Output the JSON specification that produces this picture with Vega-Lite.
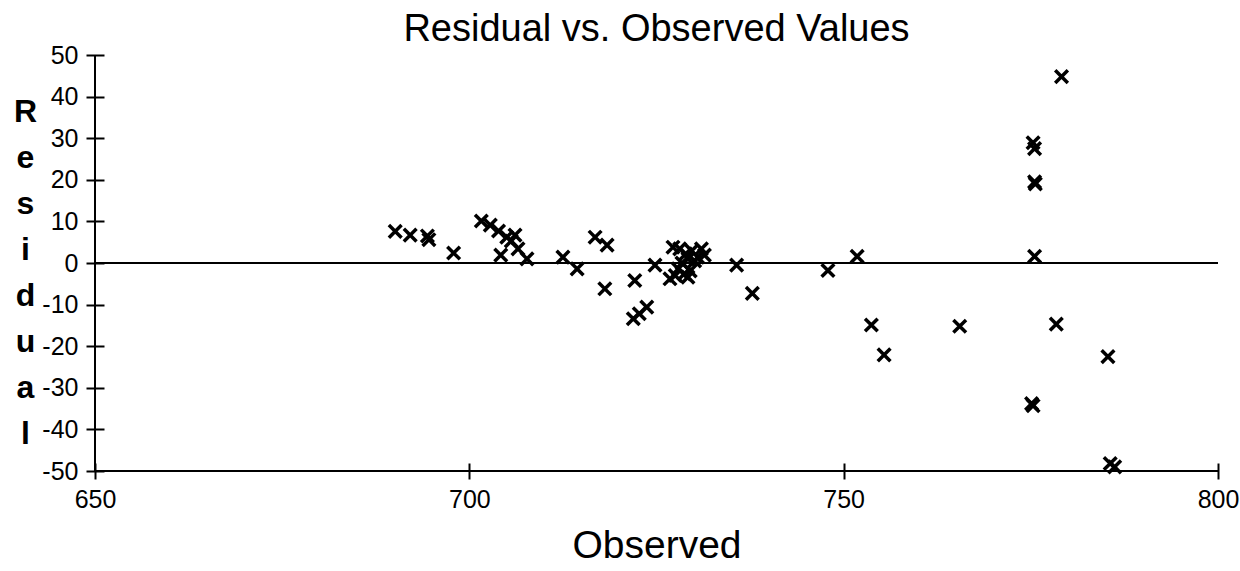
{
  "$schema": "https://vega.github.io/schema/vega-lite/v6.json",
  "width": 1123,
  "height": 416,
  "autosize": {"type": "none"},
  "padding": {"left": 95, "top": 55, "right": 22, "bottom": 100},
  "background": "white",
  "config": {"view": {"stroke": null}, "font": "Liberation Sans"},
  "title": {"text": "Residual vs. Observed Values", "fontSize": 38, "fontWeight": "normal", "font": "Liberation Sans", "color": "black", "anchor": "middle", "offset": -6},
  "layer": [
    {
      "data": {"values": [{"Residual": 0}]},
      "mark": {"type": "rule", "color": "black", "strokeWidth": 2},
      "encoding": {"y": {"field": "Residual", "type": "quantitative"}}
    },
    {
      "data": {"values": [{"Residual": -50}]},
      "mark": {"type": "rule", "color": "black", "strokeWidth": 2},
      "encoding": {"y": {"field": "Residual", "type": "quantitative"}}
    },
    {
      "data": {"values": [{"Observed": 650}]},
      "mark": {"type": "rule", "color": "black", "strokeWidth": 2},
      "encoding": {"x": {"field": "Observed", "type": "quantitative"}}
    },
    {
      "data": {"values": [
        {"Observed": 690.1, "Residual": 7.6},
        {"Observed": 692.1, "Residual": 6.7},
        {"Observed": 694.4, "Residual": 6.5},
        {"Observed": 694.6, "Residual": 5.6},
        {"Observed": 697.9, "Residual": 2.4},
        {"Observed": 701.6, "Residual": 10.1},
        {"Observed": 702.8, "Residual": 9.1},
        {"Observed": 703.9, "Residual": 7.7},
        {"Observed": 705.0, "Residual": 6.2},
        {"Observed": 706.1, "Residual": 6.7},
        {"Observed": 705.6, "Residual": 5.3},
        {"Observed": 704.2, "Residual": 1.9},
        {"Observed": 706.5, "Residual": 3.4},
        {"Observed": 707.7, "Residual": 1.0},
        {"Observed": 712.5, "Residual": 1.4},
        {"Observed": 714.4, "Residual": -1.4},
        {"Observed": 716.8, "Residual": 6.2},
        {"Observed": 718.4, "Residual": 4.3},
        {"Observed": 718.1, "Residual": -6.2},
        {"Observed": 722.1, "Residual": -4.2},
        {"Observed": 723.7, "Residual": -10.6},
        {"Observed": 722.7, "Residual": -12.2},
        {"Observed": 721.9, "Residual": -13.4},
        {"Observed": 724.8, "Residual": -0.5},
        {"Observed": 727.2, "Residual": 3.8},
        {"Observed": 727.5, "Residual": -3.0},
        {"Observed": 729.2, "Residual": -3.4},
        {"Observed": 726.8, "Residual": -3.8},
        {"Observed": 728.1, "Residual": 3.4},
        {"Observed": 728.9, "Residual": 2.2},
        {"Observed": 729.7, "Residual": 2.9},
        {"Observed": 730.5, "Residual": 1.4},
        {"Observed": 731.0, "Residual": 3.4},
        {"Observed": 731.4, "Residual": 1.9},
        {"Observed": 730.1, "Residual": 0.5},
        {"Observed": 729.2, "Residual": 1.0},
        {"Observed": 728.4, "Residual": 0.0},
        {"Observed": 727.9, "Residual": -1.4},
        {"Observed": 728.7, "Residual": -2.6},
        {"Observed": 729.5, "Residual": -1.9},
        {"Observed": 735.7, "Residual": -0.5},
        {"Observed": 737.8, "Residual": -7.3},
        {"Observed": 747.9, "Residual": -1.8},
        {"Observed": 751.8, "Residual": 1.6},
        {"Observed": 753.7, "Residual": -14.9},
        {"Observed": 755.4, "Residual": -22.1},
        {"Observed": 765.5, "Residual": -15.2},
        {"Observed": 775.1, "Residual": -33.8},
        {"Observed": 775.3, "Residual": -34.3},
        {"Observed": 775.3, "Residual": 28.9},
        {"Observed": 775.5, "Residual": 27.5},
        {"Observed": 775.5, "Residual": 19.5},
        {"Observed": 775.6, "Residual": 19.0},
        {"Observed": 775.5, "Residual": 1.6},
        {"Observed": 779.1, "Residual": 44.8},
        {"Observed": 778.4, "Residual": -14.7},
        {"Observed": 785.3, "Residual": -22.5},
        {"Observed": 785.6, "Residual": -48.2},
        {"Observed": 786.2, "Residual": -49.0}
      ]},
      "mark": {"type": "point", "shape": "M-1,-1L1,1M1,-1L-1,1", "filled": false, "stroke": "black", "strokeWidth": 3.5, "size": 160, "opacity": 1},
      "encoding": {
        "x": {
          "field": "Observed", "type": "quantitative",
          "scale": {"domain": [650, 800], "nice": false, "zero": false},
          "axis": {
            "values": [650, 700, 750, 800], "format": "d", "offset": -8, "tickSize": 16, "tickWidth": 2, "tickColor": "black",
            "domain": false, "grid": false, "labelFlush": false, "labelOverlap": false,
            "labelFont": "Liberation Sans", "labelFontSize": 25, "labelColor": "black", "labelPadding": 8,
            "title": "Observed", "titleFont": "Liberation Sans", "titleFontSize": 39, "titleFontWeight": "normal", "titleColor": "black", "titlePadding": 14
          }
        },
        "y": {
          "field": "Residual", "type": "quantitative",
          "scale": {"domain": [-50, 50], "nice": false, "zero": false},
          "axis": {
            "values": [-50, -45, -40, -35, -30, -25, -20, -15, -10, -5, 0, 5, 10, 15, 20, 25, 30, 35, 40, 45, 50],
            "labelExpr": "datum.value % 10 == 0 ? '' + datum.value : ''",
            "offset": -9, "tickSize": 18, "tickWidth": 2, "tickColor": "black",
            "domain": false, "grid": false, "labelFlush": false, "labelOverlap": false,
            "labelFont": "Liberation Sans", "labelFontSize": 25, "labelColor": "black", "labelPadding": 8,
            "title": ["R", "e", "s", "i", "d", "u", "a", "l"], "titleAngle": 0, "titleFont": "Liberation Sans", "titleFontWeight": "bold",
            "titleFontSize": 32, "titleLineHeight": 46, "titleX": -79, "titleY": 41, "titleAlign": "center", "titleBaseline": "top", "titleColor": "black"
          }
        }
      }
    }
  ]
}
